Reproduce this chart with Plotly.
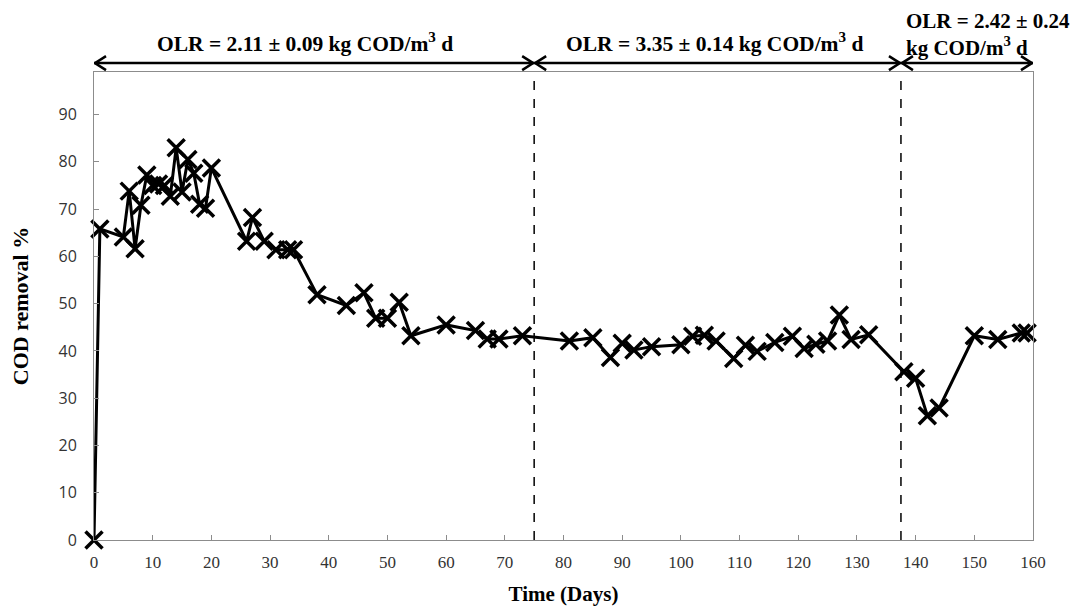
import plotly.graph_objects as go

# ---- data ----
days = [0, 1, 5, 6, 7, 8, 9, 10, 11, 12, 13, 14, 15, 16, 17, 18, 19, 20,
        26, 27, 29, 31, 33, 34, 38, 43, 46, 48, 50, 52, 54, 60, 65, 67, 69, 73,
        81, 85, 88, 90, 92, 95, 100, 102, 104, 106, 109, 111, 113, 116, 119,
        121, 123, 125, 127, 129, 132, 138, 140, 142, 144, 150, 154, 158, 159]
cod_removal = [0, 65.8, 64.1, 73.8, 61.6, 70.8, 77.2, 75.0, 75.3, 75.0, 72.7, 83.0,
               73.6, 80.5, 77.6, 71.0, 70.2, 78.7,
               63.2, 68.2, 63.2, 61.4, 61.4, 61.4, 51.9, 49.6, 52.3, 46.9, 46.9,
               50.3, 43.2, 45.5, 44.3, 42.5, 42.5, 43.2,
               42.1, 42.8, 38.6, 41.6, 40.2, 40.9, 41.3, 43.1, 43.3, 42.1, 38.4,
               41.2, 39.9, 41.8, 43.1, 40.5, 41.4, 42.1, 47.6, 42.4, 43.4,
               35.6, 34.2, 26.3, 27.9, 43.2, 42.4, 43.8, 43.8]

x_ticks = list(range(0, 161, 10))
y_ticks = list(range(0, 91, 10))

phase_bounds = [0, 75, 137.5, 160]
phase_labels = ["OLR = 2.11 ± 0.09 kg COD/m<sup>3</sup> d",
                "OLR = 3.35 ± 0.14 kg COD/m<sup>3</sup> d",
                "OLR = 2.42 ± 0.24<br>kg COD/m<sup>3</sup> d"]
phase_label_x = [36, 105.7, 138.1]
phase_label_y = [1.064, 1.064, 1.081]
phase_label_anchor = ["center", "center", "left"]
phase_label_size = [21.5, 21.5, 21]

Y_MAX = 99
ARROW_Y = 1.019  # paper fraction

fig = go.Figure()
fig.add_trace(go.Scatter(
    x=days, y=cod_removal, mode="lines+markers",
    line=dict(color="black", width=3),
    marker=dict(symbol="x-thin-open", size=17, color="black",
                line=dict(color="black", width=3.5)),
    cliponaxis=False, showlegend=False))

shapes = []
# dashed phase boundaries
for b in phase_bounds[1:-1]:
    shapes.append(dict(type="line", xref="x", yref="y", x0=b, x1=b, y0=0, y1=Y_MAX,
                       line=dict(color="black", width=1.5, dash="dash")))
# double-headed arrows over each phase
for a, b in zip(phase_bounds[:-1], phase_bounds[1:]):
    shapes.append(dict(type="line", xref="x", yref="paper", x0=a, x1=b,
                       y0=ARROW_Y, y1=ARROW_Y, line=dict(color="black", width=2.5)))
    shapes.append(dict(type="path", xref="x", yref="paper", xsizemode="pixel",
                       ysizemode="pixel", xanchor=a, yanchor=ARROW_Y,
                       path="M 12,7 L 1,0 L 12,-7", line=dict(color="black", width=2.5)))
    shapes.append(dict(type="path", xref="x", yref="paper", xsizemode="pixel",
                       ysizemode="pixel", xanchor=b, yanchor=ARROW_Y,
                       path="M -12,7 L -1,0 L -12,-7", line=dict(color="black", width=2.5)))

annotations = []
for lab, lx, ly, anc, sz in zip(phase_labels, phase_label_x, phase_label_y,
                                phase_label_anchor, phase_label_size):
    annotations.append(dict(text="<b>" + lab + "</b>", x=lx, y=ly, xref="x", yref="paper",
                            xanchor=anc, yanchor="middle",
                            showarrow=False, align="left",
                            font=dict(family="Liberation Serif", size=sz, color="black")))

fig.update_layout(
    width=1083, height=612,
    margin=dict(l=82, r=58, t=64, b=80),
    paper_bgcolor="white", plot_bgcolor="white",
    shapes=shapes, annotations=annotations,
    xaxis=dict(range=[0, 160], tickvals=x_ticks, showgrid=False, zeroline=False,
               showline=True, linecolor="#8c8c8c", linewidth=1, mirror=True,
               ticks="inside", ticklen=5, tickcolor="#8c8c8c", ticklabelstandoff=7,
               tickfont=dict(family="Liberation Sans Narrow, Arial Narrow", size=17,
                             color="#333333"),
               title=dict(text="<b>Time (Days)</b>", standoff=14,
                          font=dict(family="Liberation Serif", size=21, color="black"))),
    yaxis=dict(range=[0, Y_MAX], tickvals=y_ticks, showgrid=False, zeroline=False,
               showline=True, linecolor="#8c8c8c", linewidth=1, mirror=True,
               ticks="inside", ticklen=5, tickcolor="#8c8c8c", ticklabelstandoff=13,
               tickfont=dict(family="Open Sans", size=16, color="#333333"),
               title=dict(text="<b>COD removal %</b>", standoff=23,
                          font=dict(family="Liberation Serif", size=22, color="black"))),
)

fig.write_html("out.html")
